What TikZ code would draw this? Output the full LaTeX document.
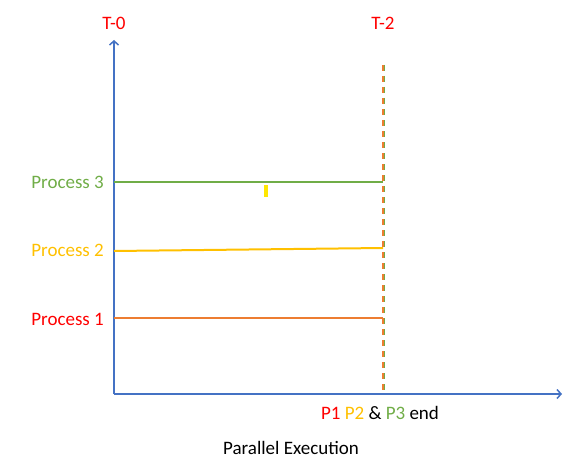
\documentclass[tikz,border=0pt]{standalone}
\usepackage{fontspec}
\setmainfont{Carlito}
\usetikzlibrary{arrows.meta}
\definecolor{axisblue}{HTML}{4472C4}
\definecolor{pgreen}{HTML}{70AD47}
\definecolor{pyellow}{HTML}{FFC000}
\definecolor{porange}{HTML}{ED7D31}
\definecolor{pred}{HTML}{FF0000}
\begin{document}
\begin{tikzpicture}[x=1pt,y=-1pt,
    axis/.style ={axisblue, line width=1.5pt, -{Straight Barb[length=4pt,width=9pt]}},
    label/.style ={font=\fontsize{19}{21}\selectfont, inner sep=0pt},
    procline/.style ={line width=2pt}]
   \useasboundingbox (0,0) rectangle (585,468);
   % axes
   \coordinate (O) at (114,394);
   \coordinate (Ytop) at (114,40);
   \coordinate (Xend) at (562,394);
   \draw[axis] (O) -- (Ytop);
   \draw[axis] (O) -- (Xend);
   \node[label, text=pred] (T0) at (114,23) {T-0};
   \node[label, text=pred] (T2) at (383,23) {T-2};
   % end line
   \coordinate (Dtop) at (383,65);
   \coordinate (Dbot) at (383,394);
   \draw[porange, line width=3pt, dash pattern=on 6pt off 5pt] (Dtop) -- (Dbot);
   \draw[pgreen, line width=0.8pt, dash pattern=on 6pt off 5pt] ([xshift=1.2pt]Dtop) -- ([xshift=1.2pt]Dbot);
   % processes
   \node[label, text=pgreen, anchor=east] (P3) at (104,182) {Process 3};
   \node[label, text=pyellow, anchor=east] (P2) at (104,250) {Process 2};
   \node[label, text=pred, anchor=east] (P1) at (104,319) {Process 1};
   \draw[procline, pgreen] (114,182) -- (383,182);
   \draw[procline, pyellow] (114,251) -- (383,248);
   \draw[procline, porange] (114,318) -- (383,318);
   \fill[yellow!90!orange] (264,185) rectangle (268,197);
   % captions
   \node[label] (End) at (380,413) {\textcolor{pred}{P1} \textcolor{pyellow}{P2} \& \textcolor{pgreen}{P3} end};
   \node[label] (Title) at (291,448) {Parallel Execution};
 \end{tikzpicture}
\end{document}
